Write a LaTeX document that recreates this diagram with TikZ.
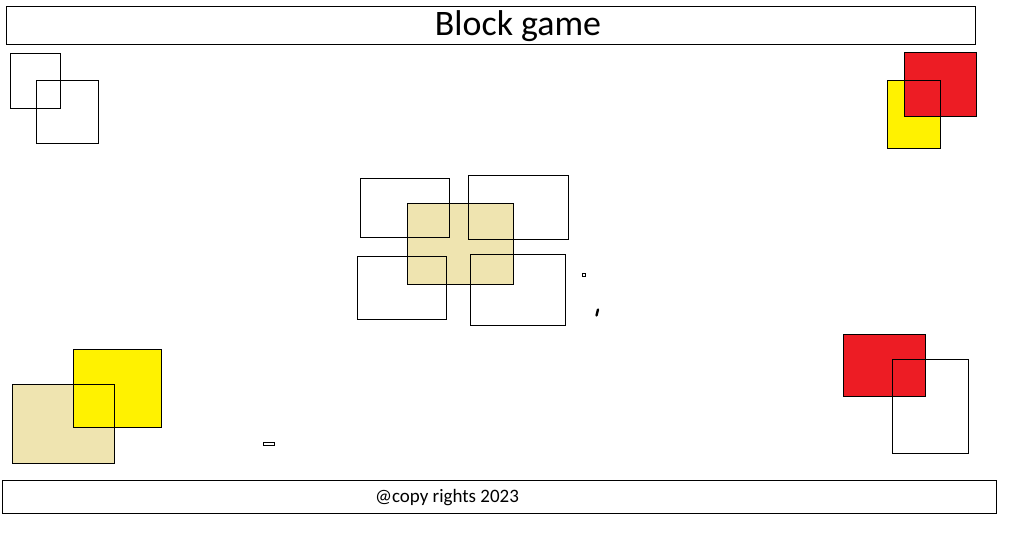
\documentclass[tikz,border=0pt]{standalone}
\usepackage{fontspec}
\setmainfont{Carlito}
\definecolor{blockred}{HTML}{ED1C24}
\definecolor{blockyellow}{HTML}{FFF200}
\definecolor{blocktan}{HTML}{EFE4B0}
\begin{document}
\begin{tikzpicture}[x=0.03cm,y=-0.03cm,line width=0.8pt, every node/.style={inner sep=0pt}]
		\useasboundingbox (0,0) rectangle (1018,536);
		% Title
		\draw (6,6) rectangle (975,44);
		\node (title) at (518,26) {\fontsize{30.6}{34}\selectfont Block game};
		% Top left squares
		\draw (10,53) rectangle (60,108);
		\draw (36,80) rectangle (98,143);
		% Top right squares
		\fill[color=blockyellow] (887,80) rectangle (940,148);
		\fill[color=blockred] (904,52) rectangle (976,116);
		\draw (887,80) rectangle (940,148);
		\draw (904,52) rectangle (976,116);
		% Centre block
		\fill[color=blocktan] (407,203) rectangle (513,284);
		\draw (407,203) rectangle (513,284);
		\draw (360,178) rectangle (449,237);
		\draw (468,175) rectangle (568,239);
		\draw (357,256) rectangle (446,319);
		\draw (470,254) rectangle (565,325);
		% Small marks
		\draw[line width=0.6pt] (582,273.5) rectangle (585,276.5);
		\draw[line width=2pt,line cap=round] (598,309.5) -- (596.5,315.5);
		\draw[line width=0.6pt] (263,442) rectangle (274,445);
		% Bottom left squares
		\fill[color=blocktan] (12,384) rectangle (114,463);
		\fill[color=blockyellow] (73,349) rectangle (161,427);
		\draw (73,349) rectangle (161,427);
		\draw (12,384) rectangle (114,463);
		% Bottom right squares
		\fill[color=blockred] (843,334) rectangle (925,396);
		\draw (843,334) rectangle (925,396);
		\draw (892,359) rectangle (968,453);
		% Footer
		\draw (2,480) rectangle (996,513);
		\node (footer) at (447,498) {\fontsize{16.2}{19}\selectfont @copy rights 2023};
\end{tikzpicture}
\end{document}
